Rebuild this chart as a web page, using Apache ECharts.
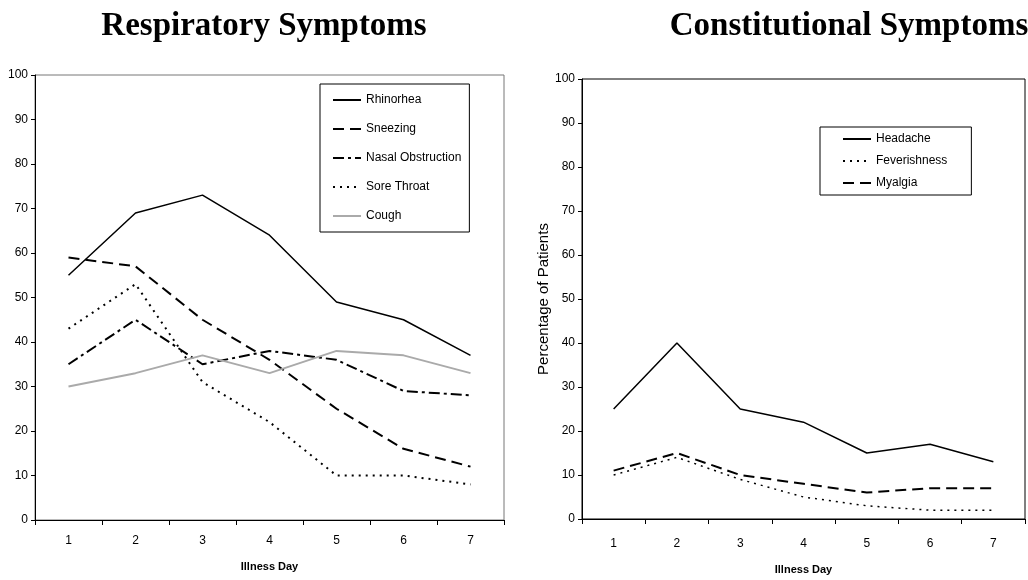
<!DOCTYPE html>
<html>
<head>
<meta charset="utf-8">
<script src="https://cdn.jsdelivr.net/npm/echarts@6/dist/echarts.min.js"></script>
<style>
  html, body { margin: 0; padding: 0; background: #fff; }
  #chart { width: 1028px; height: 580px; }
</style>
</head>
<body>
<div id="chart"></div>
<script>
// Illness days shared by both panels
const days = ['1', '2', '3', '4', '5', '6', '7'];

// Respiratory symptoms (% of patients)
const rhinorrhea       = [55, 69, 73, 64, 49, 45, 37];
const sneezing         = [59, 57, 45, 36, 25, 16, 12];
const nasalObstruction = [35, 45, 35, 38, 36, 29, 28];
const soreThroat       = [43, 53, 31, 22, 10, 10, 8];
const cough            = [30, 33, 37, 33, 38, 37, 33];

// Constitutional symptoms (% of patients)
const headache     = [25, 40, 25, 22, 15, 17, 13];
const feverishness = [10, 14, 9, 5, 3, 2, 2];
const myalgia      = [11, 15, 10, 8, 6, 7, 7];

const sans = 'Liberation Sans, Arial, sans-serif';
const serif = 'Liberation Serif, Times New Roman, serif';

function xAxisFor(gridIndex, labelMargin, nameGap) {
  return {
    type: 'category', gridIndex, data: days, boundaryGap: true,
    name: 'Illness Day', nameLocation: 'middle', nameGap,
    nameTextStyle: { fontFamily: sans, fontSize: 11, fontWeight: 'bold', color: '#000' },
    axisLine: { lineStyle: { color: '#000', width: 1 } },
    axisTick: { show: true, inside: false, length: 5, alignWithLabel: false, lineStyle: { color: '#000' } },
    axisLabel: { fontFamily: sans, fontSize: 12, color: '#000', margin: labelMargin },
    splitLine: { show: false }
  };
}

function yAxisFor(gridIndex, extra) {
  return Object.assign({
    type: 'value', gridIndex, min: 0, max: 100, interval: 10,
    axisLine: { show: true, lineStyle: { color: '#000', width: 1 } },
    axisTick: { show: true, length: 4, lineStyle: { color: '#000' } },
    axisLabel: { fontFamily: sans, fontSize: 12, color: '#000', margin: 7 },
    splitLine: { show: false }
  }, extra || {});
}

function line(name, data, idx, color, width, dash) {
  return {
    name, type: 'line', data, xAxisIndex: idx, yAxisIndex: idx,
    symbol: 'none', smooth: false, animation: false,
    lineStyle: { color, width, type: dash || 'solid' },
    itemStyle: { color }
  };
}

// Legend keys show only the line sample, no marker
const legendBase = {
  orient: 'vertical',
  itemWidth: 28, itemHeight: 14,
  backgroundColor: '#fff', borderColor: '#000', borderWidth: 1,
  itemStyle: { opacity: 0 },
  textStyle: { fontFamily: sans, fontSize: 12, color: '#000' },
  selectedMode: false
};

const chart = echarts.init(document.getElementById('chart'), null, { renderer: 'canvas' });

chart.setOption({
  backgroundColor: '#fff',
  animation: false,
  title: [
    { text: 'Respiratory Symptoms', left: 259, top: 5, textAlign: 'center',
      textStyle: { fontFamily: serif, fontSize: 33, fontWeight: 'bold', color: '#000' } },
    { text: 'Constitutional Symptoms', left: 844, top: 5, textAlign: 'center',
      textStyle: { fontFamily: serif, fontSize: 33, fontWeight: 'bold', color: '#000' } }
  ],
  grid: [
    { left: 35, top: 75, width: 469, height: 445, show: true, borderColor: '#777', borderWidth: 1, backgroundColor: 'transparent' },
    { left: 582, top: 79, width: 443, height: 443, show: true, borderColor: '#000', borderWidth: 1, backgroundColor: 'transparent' }
  ],
  xAxis: [xAxisFor(0, 15, 41), xAxisFor(1, 19, 45)],
  yAxis: [
    yAxisFor(0),
    yAxisFor(1, {
      name: 'Percentage of Patients', nameLocation: 'middle', nameGap: 28,
      nameTextStyle: { fontFamily: sans, fontSize: 15, color: '#000' }
    })
  ],
  legend: [
    Object.assign({}, legendBase, {
      data: ['Rhinorhea', 'Sneezing', 'Nasal Obstruction', 'Sore Throat', 'Cough'],
      left: 320, top: 84, itemGap: 17,
      padding: [10, 8, 10, 12]
    }),
    Object.assign({}, legendBase, {
      data: ['Headache', 'Feverishness', 'Myalgia'],
      left: 820, top: 127, itemGap: 10,
      padding: [6, 24, 6, 22]
    })
  ],
  series: [
    line('Rhinorhea', rhinorrhea, 0, '#000', 1.5),
    line('Sneezing', sneezing, 0, '#000', 2, [11, 6]),
    line('Nasal Obstruction', nasalObstruction, 0, '#000', 2, [11, 4, 3, 4]),
    line('Sore Throat', soreThroat, 0, '#000', 2, [2, 5]),
    line('Cough', cough, 0, '#aaa', 2),
    line('Headache', headache, 1, '#000', 1.5),
    line('Feverishness', feverishness, 1, '#000', 1.5, [2, 5]),
    line('Myalgia', myalgia, 1, '#000', 2, [11, 6])
  ]
});
</script>
</body>
</html>
